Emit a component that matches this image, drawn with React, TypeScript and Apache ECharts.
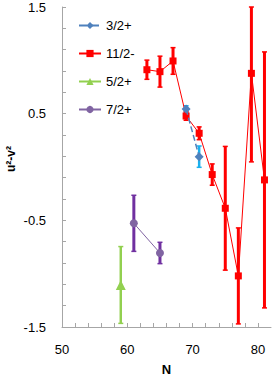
import React, { useEffect, useRef } from 'react';
import * as echarts from 'echarts';

// 3/2+
const s32N = [69, 71];
const s32V = [0.544, 0.097];
const s32E = [0.03, 0.1];
// 11/2-
const s112N = [63, 65, 67, 69, 71, 73, 75, 77, 79, 81];
const s112V = [0.912, 0.894, 0.994, 0.478, 0.316, -0.071, -0.387, -1.021, 0.878, -0.121];
const s112E = [0.09, 0.145, 0.125, 0.04, 0.06, 0.1, 0.58, 0.45, 0.83, 1.2];
// 5/2+
const s52N = [59];
const s52V = [-1.106];
const s52E = [0.36];
// 7/2+
const s72N = [61, 65];
const s72V = [-0.528, -0.806];
const s72E = [0.263, 0.1];

const seriesNames = ['3/2+', '11/2-', '5/2+', '7/2+'];
const yTitle = 'u²-v²';
const xTitle = 'N';
const yMin = -1.5;
const yMax = 1.5;

const FONT = 'Liberation Sans';

function pts(n: number[], v: number[]) {
  return n.map((x, i) => [x, v[i]]);
}
function errs(n: number[], v: number[], e: number[]) {
  return n.map((x, i) => [x, v[i] - e[i], v[i] + e[i]]);
}

function errRender(color: string, width: number, cap: number) {
  return (params: any, api: any) => {
    const x = api.value(0);
    const lo = Math.max(api.value(1), yMin);
    const hi = Math.min(api.value(2), yMax);
    const p1 = api.coord([x, hi]);
    const p2 = api.coord([x, lo]);
    return {
      type: 'group',
      children: [
        { type: 'line', shape: { x1: p1[0], y1: p1[1], x2: p2[0], y2: p2[1] }, style: { stroke: color, lineWidth: width } },
        { type: 'line', shape: { x1: p1[0] - cap, y1: p1[1], x2: p1[0] + cap, y2: p1[1] }, style: { stroke: color, lineWidth: 1.5 } },
        { type: 'line', shape: { x1: p2[0] - cap, y1: p2[1], x2: p2[0] + cap, y2: p2[1] }, style: { stroke: color, lineWidth: 1.5 } },
      ],
    };
  };
}

function errSeries(data: any[], color: string, width: number, cap: number) {
  return {
    type: 'custom',
    renderItem: errRender(color, width, cap),
    data,
    z: 1,
    silent: true,
    encode: { x: 0, y: [1, 2] },
  };
}

export default function App() {
  const ref = useRef<HTMLDivElement>(null);
  useEffect(() => {
    if (!ref.current) return;
    const chart = echarts.init(ref.current, undefined, { renderer: 'svg' });
    const axisColor = '#a6a6a6';
    chart.setOption({
      animation: false,
      grid: { left: 62, top: 7, width: 209, height: 320, containLabel: false, outerBoundsMode: 'none' },
      graphic: [
        {
          type: 'text',
          x: 11,
          y: 159,
          rotation: Math.PI / 2,
          style: {
            text: yTitle,
            align: 'center',
            verticalAlign: 'middle',
            font: 'bold 12px "Liberation Sans"',
            fill: '#000',
          },
        },
      ],
      legend: {
        data: seriesNames,
        orient: 'vertical',
        left: 73,
        top: 14,
        itemGap: 15,
        itemWidth: 22,
        itemHeight: 9,
        textStyle: { fontFamily: FONT, fontSize: 13, color: '#000' },
      },
      xAxis: {
        type: 'value',
        min: 50,
        max: 82,
        interval: 2,
        name: xTitle,
        nameLocation: 'middle',
        nameGap: 36,
        nameTextStyle: { fontFamily: FONT, fontSize: 13, fontWeight: 'bold', color: '#000', lineHeight: 13 },
        axisLine: { onZero: false, lineStyle: { color: axisColor } },
        axisTick: { inside: true, length: 4, lineStyle: { color: axisColor } },
        axisLabel: {
          margin: 16,
          fontFamily: FONT,
          fontSize: 13,
          color: '#000',
          showMaxLabel: false,
          formatter: (v: number) => (Math.abs(v % 10) < 1e-6 ? String(v) : ''),
        },
        splitLine: { show: false },
      },
      yAxis: {
        type: 'value',
        min: yMin,
        max: yMax,
        interval: 0.2,
        axisLine: { show: true, onZero: false, lineStyle: { color: axisColor } },
        axisTick: { show: true, inside: true, length: 4, lineStyle: { color: axisColor } },
        axisLabel: {
          margin: 16,
          fontFamily: FONT,
          fontSize: 13,
          color: '#000',
          formatter: (v: number) => {
            const r = Math.round(v - 0.5) + 0.5;
            return Math.abs(v - r) < 1e-6 ? String(r) : '';
          },
        },
        splitLine: { show: false },
      },
      series: [
        errSeries(errs(s32N, s32V, s32E), '#1ab0ee', 2.5, 2.5),
        errSeries(errs(s112N, s112V, s112E), '#ff0000', 3, 2.5),
        errSeries(errs(s52N, s52V, s52E), '#92d050', 2.5, 2.5),
        errSeries(errs(s72N, s72V, s72E), '#7030a0', 3, 2.5),
        {
          name: '3/2+',
          type: 'line',
          data: pts(s32N, s32V),
          symbol: 'diamond',
          symbolSize: 9,
          itemStyle: { color: '#4f81bd' },
          lineStyle: { color: '#4f81bd', width: 1.5, type: 'dashed' },
          z: 3,
        },
        {
          name: '11/2-',
          type: 'line',
          data: pts(s112N, s112V),
          symbol: 'rect',
          symbolSize: 7,
          itemStyle: { color: '#ff0000' },
          lineStyle: { color: '#ff0000', width: 1 },
          z: 2,
        },
        {
          name: '5/2+',
          type: 'line',
          data: pts(s52N, s52V),
          symbol: 'triangle',
          symbolSize: 10,
          itemStyle: { color: '#92d050' },
          lineStyle: { color: '#92d050', width: 2 },
          z: 2,
        },
        {
          name: '7/2+',
          type: 'line',
          data: pts(s72N, s72V),
          symbol: 'circle',
          symbolSize: 8,
          itemStyle: { color: '#8064a2' },
          lineStyle: { color: '#8064a2', width: 1 },
          z: 2,
        },
      ],
    });
    return () => chart.dispose();
  }, []);
  return <div ref={ref} style={{ position: 'absolute', left: 0, top: 0, width: 272, height: 379 }} />;
}
